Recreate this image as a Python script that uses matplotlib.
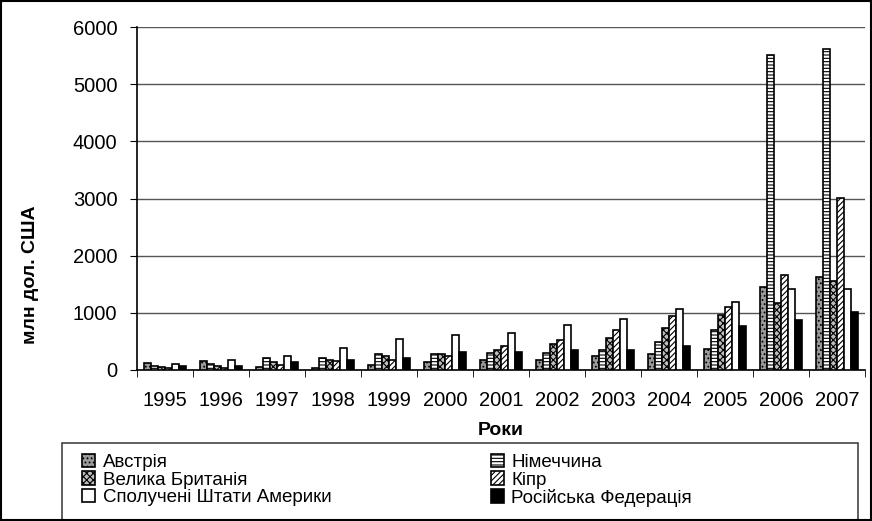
import numpy as np
import matplotlib.pyplot as plt
from matplotlib import rcParams
from matplotlib.patches import Rectangle

rcParams['font.family'] = ['Liberation Sans', 'DejaVu Sans']
rcParams['hatch.linewidth'] = 0.8

years = ['1995', '1996', '1997', '1998', '1999', '2000', '2001',
         '2002', '2003', '2004', '2005', '2006', '2007']

austria = [120, 160, 50, 40, 90, 140, 180, 180, 240, 280, 370, 1450, 1630]
germany = [60, 100, 200, 200, 280, 280, 290, 290, 340, 490, 690, 5510, 5610]
uk = [50, 70, 130, 170, 240, 270, 340, 450, 550, 730, 960, 1170, 1550]
cyprus = [40, 40, 90, 160, 180, 240, 410, 520, 700, 940, 1100, 1660, 3010]
usa = [110, 180, 250, 390, 540, 610, 650, 790, 890, 1060, 1190, 1410, 1410]
russia = [60, 60, 140, 170, 200, 310, 310, 340, 340, 410, 760, 870, 1010]

names = ['Австрія', 'Німеччина', 'Велика Британія', 'Кіпр',
         'Сполучені Штати Америки', 'Російська Федерація']

series = [austria, germany, uk, cyprus, usa, russia]
faces = ['#9a9a9a', 'white', '#bdbdbd', 'white', 'white', 'black']
hatches = ['....', '-----', 'xxxxx', '//////', None, None]

fig = plt.figure(figsize=(8.72, 5.21), dpi=100)
ax = fig.add_axes([0.157, 0.29, 0.835, 0.658])

x = np.arange(len(years))
w = 0.125
handles = []
for i, vals in enumerate(series):
    pos = x + (i - 2.5) * w
    b = ax.bar(pos, vals, width=w, color=faces[i], edgecolor='black',
               hatch=hatches[i], linewidth=1.2, label=names[i], zorder=3)
    handles.append(b)

ax.set_ylim(0, 6000)
ax.set_xlim(-0.5, len(years) - 0.5)
ax.set_yticks(np.arange(0, 6001, 1000))
ax.yaxis.grid(True, color='#555555', linewidth=1)
ax.set_axisbelow(True)

ax.set_xticks(x)
ax.set_xticklabels(years)
ax.set_xticks(np.arange(-0.5, len(years), 1), minor=True)
ax.tick_params(axis='x', which='major', length=0, pad=15)
ax.tick_params(axis='x', which='minor', length=5, direction='out')
ax.tick_params(axis='y', length=5, direction='out', pad=9)
ax.tick_params(labelsize=14.5)

for s in ['top', 'right']:
    ax.spines[s].set_visible(False)
ax.spines['left'].set_linewidth(1.2)
ax.spines['bottom'].set_linewidth(1.2)

ax.set_xlabel('Роки', fontsize=14, fontweight='bold', labelpad=9)
ax.set_ylabel('млн дол. США', fontsize=14, fontweight='bold')
ax.yaxis.set_label_coords(-0.135, 0.277)

# legend: row order Austria/Germany, UK/Cyprus, USA/Russia
order = [0, 2, 4, 1, 3, 5]
lg = fig.legend([handles[i] for i in order], [names[i] for i in order],
                ncol=2, loc='upper left', bbox_to_anchor=(0.094, 0.128),
                frameon=False, fontsize=13.5, handlelength=0.7,
                handleheight=0.7, handletextpad=0.4, labelspacing=0.0,
                columnspacing=8.5, borderaxespad=0, borderpad=0)

fig.patches.append(Rectangle((0.071, -0.05), 0.913, 0.199, transform=fig.transFigure,
                             fill=False, edgecolor='#444444', linewidth=1.2))
fig.patches.append(Rectangle((0.001, 0.001), 0.998, 0.998, transform=fig.transFigure,
                             fill=False, edgecolor='black', linewidth=1.5))

fig.savefig('out.png', dpi=100)
